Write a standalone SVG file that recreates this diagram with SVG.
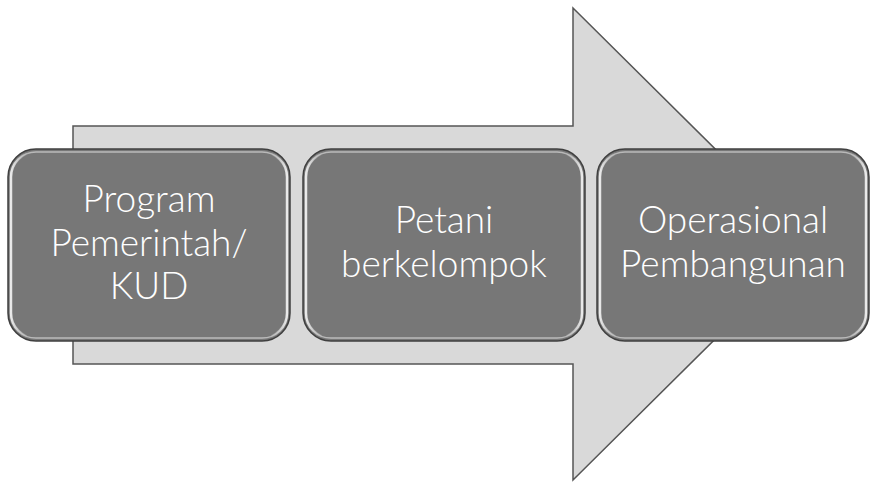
<svg xmlns="http://www.w3.org/2000/svg" width="870" height="484" viewBox="0 0 870 484">
  <defs>
    <linearGradient id="rim" x1="0" y1="0" x2="1" y2="0">
      <stop offset="0" stop-color="#ffffff" stop-opacity="0.85"/>
      <stop offset="0.06" stop-color="#ffffff" stop-opacity="0"/>
      <stop offset="0.94" stop-color="#ffffff" stop-opacity="0"/>
      <stop offset="1" stop-color="#ffffff" stop-opacity="0.85"/>
    </linearGradient>
    <linearGradient id="rimV" x1="0" y1="0" x2="0" y2="1">
      <stop offset="0" stop-color="#ffffff" stop-opacity="0.5"/>
      <stop offset="0.1" stop-color="#ffffff" stop-opacity="0"/>
      <stop offset="0.9" stop-color="#ffffff" stop-opacity="0"/>
      <stop offset="1" stop-color="#ffffff" stop-opacity="0.5"/>
    </linearGradient>
  </defs>
  <style>
    .arrow { fill: #d9d9d9; stroke: #555555; stroke-width: 1.5; }
    .box { fill: #777777; stroke: #3f3f3f; stroke-width: 1.5; }
    .rim { fill: none; stroke: url(#rim); stroke-width: 2.5; }
    .rimv { fill: none; stroke: url(#rimV); stroke-width: 1.5; }
    .label { fill: #ffffff; font-family: Lato, "Open Sans", sans-serif; font-size: 37px; font-weight: 300; text-anchor: middle; }
  </style>

  <!-- background process arrow -->
  <g id="connectors">
    <path class="arrow" d="M73,126 H573 V8 L811,244 L573,480 V364 H73 Z"/>
  </g>

  <g id="node-program">
    <rect class="box" x="8" y="149" width="282" height="192" rx="28"/>
    <rect class="rim" x="11" y="152" width="276" height="186" rx="25"/>
    <rect class="rimv" x="11" y="152" width="276" height="186" rx="25"/>
    <text class="label" x="149" y="212">Program</text>
    <text class="label" x="149" y="256">Pemerintah/</text>
    <text class="label" x="149" y="299">KUD</text>
  </g>

  <g id="node-petani">
    <rect class="box" x="303" y="149" width="282" height="192" rx="28"/>
    <rect class="rim" x="306" y="152" width="276" height="186" rx="25"/>
    <rect class="rimv" x="306" y="152" width="276" height="186" rx="25"/>
    <text class="label" x="444" y="233">Petani</text>
    <text class="label" x="444" y="277">berkelompok</text>
  </g>

  <g id="node-operasional">
    <rect class="box" x="597" y="149" width="272" height="192" rx="28"/>
    <rect class="rim" x="600" y="152" width="266" height="186" rx="25"/>
    <rect class="rimv" x="600" y="152" width="266" height="186" rx="25"/>
    <text class="label" x="733" y="233">Operasional</text>
    <text class="label" x="733" y="277">Pembangunan</text>
  </g>
</svg>
